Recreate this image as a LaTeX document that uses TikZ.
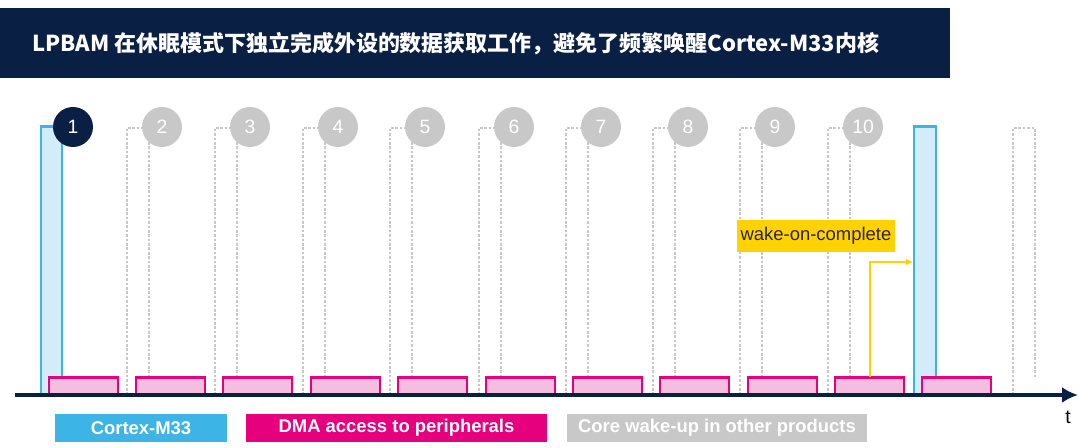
\documentclass[tikz,border=0pt]{standalone}
\usetikzlibrary{arrows.meta}
\usepackage{fontspec}
\setmainfont{Liberation Sans}
\newfontfamily\cjk{Noto Sans CJK SC}
\begin{document}
\begin{tikzpicture}[x=0.02cm,y=-0.02cm,
  cpu/.style={draw=cpuc,fill=cpul,line width=1.7pt},
  dma/.style={draw=dmac,fill=dmal,line width=1.7pt},
  ghost/.style={draw=ghostc,dashed,dash pattern=on 1.5pt off 1pt,line width=1.4pt},
  numc/.style={circle,minimum size=0.8cm,inner sep=0pt,text=white,font=\fontsize{11}{12}\selectfont},
  leg/.style={minimum height=0.56cm,inner sep=0pt,text=white,font=\bfseries\fontsize{10.5}{12}\selectfont}]
\definecolor{navyc}{HTML}{0A1F44}
\definecolor{cpuc}{HTML}{3CB4E6}
\definecolor{cpul}{HTML}{D2ECF9}
\definecolor{dmac}{HTML}{E6007E}
\definecolor{dmal}{HTML}{F5BDDF}
\definecolor{ghostc}{HTML}{C8C8C8}
\definecolor{yel}{HTML}{FFD200}
\useasboundingbox (0,0) rectangle (1080,448);
\fill[navyc] (0,8) rectangle (950,78);
\node[anchor=west,text=white,font=\cjk\bfseries\fontsize{12.5}{14}\selectfont] (title) at (26,44) {LPBAM 在休眠模式下独立完成外设的数据获取工作，避免了频繁唤醒Cortex-M33内核};
% ghost bars
\foreach \c in {162,250,338,425,514,601,688,775,863,1048}{
  \draw[ghost] (\c-35,395) -- (\c-35,128) -- (\c-13,128) -- (\c-13,378);
}
% cpu bars
\draw[cpu] (41,395) rectangle (62,127);
\draw[cpu] (914,395) rectangle (936,127);
% pink boxes
\foreach[count=\i] \x in {49,136,223,311,398,486,573,660,748,835,922}{
  \draw[dma] (\x,378) rectangle (\x+69,395);
  \coordinate (p\i) at (\x+35,378);
}
% circles
\node[numc,fill=navyc] (n1) at (73,127) {1};
\foreach[count=\i from 2] \c in {162,250,338,425,514,601,688,775,863}{
  \node[numc,fill=ghostc] (n\i) at (\c,127) {\i};
}
% axis
\draw[navyc,line width=1.8pt,-{Latex[length=9pt,width=9pt]}] (15,395) coordinate (a0) -- (1078,395) coordinate (a1);
\node[font=\fontsize{11}{12}\selectfont] (t) at (1068,417) {t};
% wake
\node[fill=yel,minimum width=3.18cm,minimum height=0.64cm,inner sep=0pt,font=\fontsize{10.5}{12}\selectfont,text=black!85] (wake) at (816,236) {wake-on-complete};
\coordinate (w1) at (870,377);
\coordinate (w2) at (913,262);
\draw[yel,line width=0.8pt,-{Latex[length=4pt,width=4pt]}] (w1) |- (w2);
% legend
\node[leg,fill=cpuc,minimum width=3.44cm] (l1) at (141,428) {Cortex-M33};
\node[leg,fill=dmac,minimum width=6.02cm] (l2) at (396.5,428) {DMA access to peripherals};
\node[leg,fill=ghostc,minimum width=6cm] (l3) at (717,428) {Core wake-up in other products};
\end{tikzpicture}
\end{document}
